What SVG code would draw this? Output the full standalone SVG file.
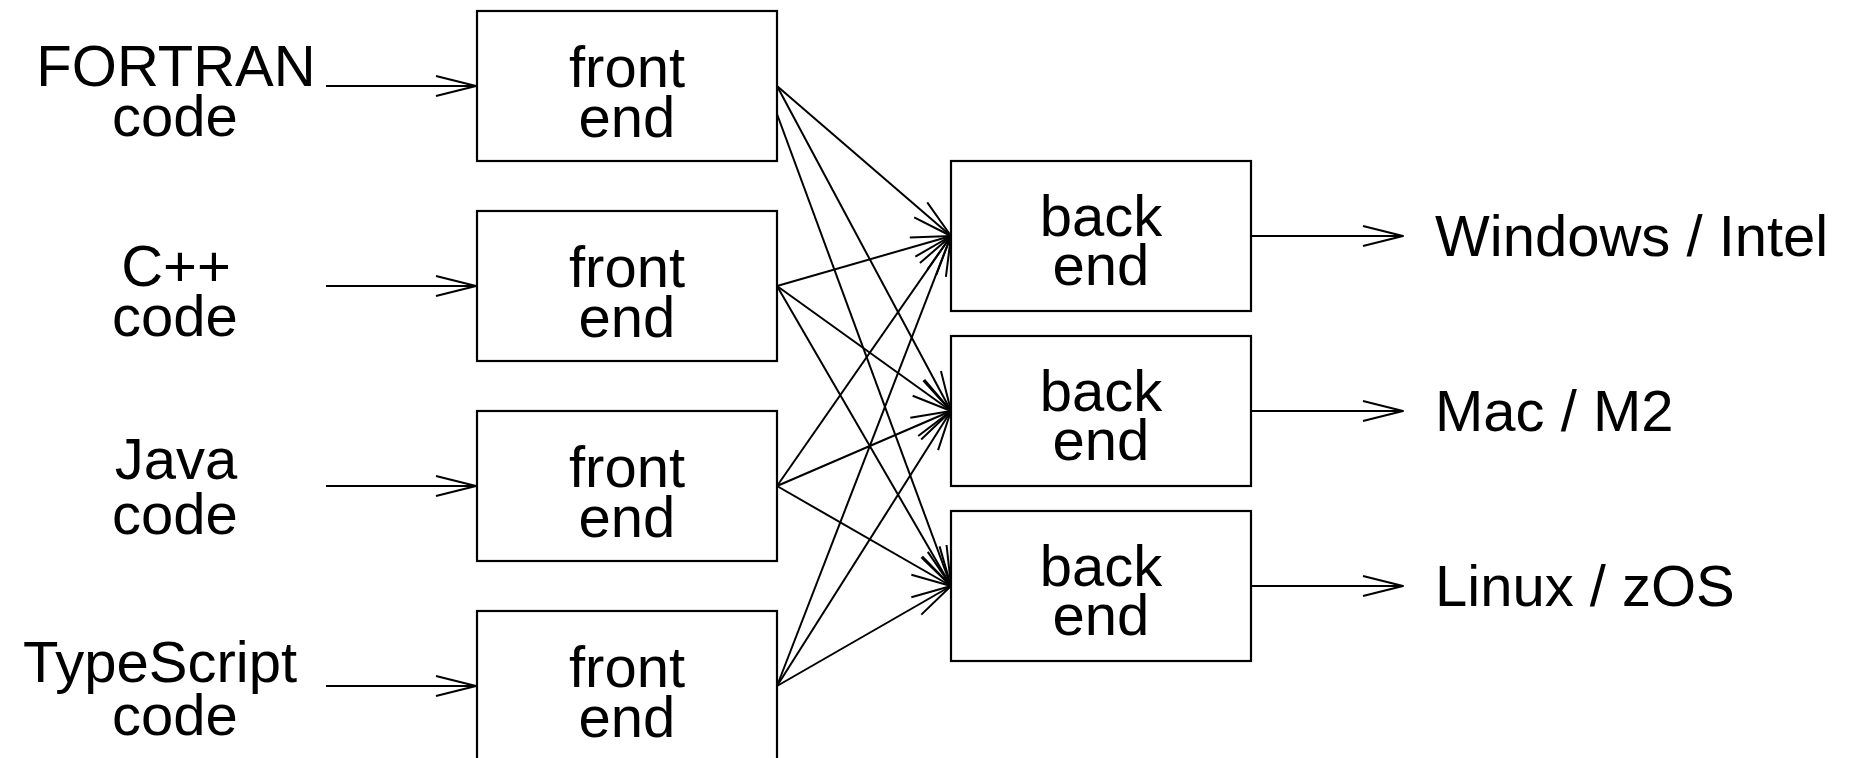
<svg xmlns="http://www.w3.org/2000/svg" width="1856" height="758" viewBox="0 0 1856 758">
  <style>
    .box { fill: #fff; stroke: #000; stroke-width: 2.2; }
    .lbl { font-family: "Liberation Sans", Arial, Helvetica, sans-serif; font-size: 58px; fill: #000; }
    .mid { text-anchor: middle; }
    .edge { fill: none; stroke: #000; stroke-width: 2; marker-end: url(#open); }
  </style>
  <defs>
    <marker id="open" markerUnits="userSpaceOnUse" markerWidth="60" markerHeight="40" viewBox="-50 -20 60 40" refX="0" refY="0" orient="auto" overflow="visible">
      <path d="M-40,-10 L0,0 L-40,10" fill="none" stroke="#000" stroke-width="2" stroke-linejoin="round"/>
    </marker>
  </defs>

  <rect width="1856" height="758" fill="#fff"/>

  <!-- source language labels -->
  <g id="src-fortran">
    <text class="lbl mid" x="176" y="86">FORTRAN</text>
    <text class="lbl mid" x="175" y="136">code</text>
  </g>
  <g id="src-cpp">
    <text class="lbl mid" x="176" y="286">C++</text>
    <text class="lbl mid" x="175" y="336">code</text>
  </g>
  <g id="src-java">
    <text class="lbl mid" x="176" y="479">Java</text>
    <text class="lbl mid" x="175" y="534">code</text>
  </g>
  <g id="src-typescript">
    <text class="lbl mid" x="160" y="682">TypeScript</text>
    <text class="lbl mid" x="175" y="735">code</text>
  </g>

  <!-- front ends -->
  <g id="front-1">
    <rect class="box" x="477" y="11" width="300" height="150"/>
    <text class="lbl mid" x="627" y="87">front</text>
    <text class="lbl mid" x="627" y="137">end</text>
  </g>
  <g id="front-2">
    <rect class="box" x="477" y="211" width="300" height="150"/>
    <text class="lbl mid" x="627" y="287">front</text>
    <text class="lbl mid" x="627" y="337">end</text>
  </g>
  <g id="front-3">
    <rect class="box" x="477" y="411" width="300" height="150"/>
    <text class="lbl mid" x="627" y="487">front</text>
    <text class="lbl mid" x="627" y="537">end</text>
  </g>
  <g id="front-4">
    <rect class="box" x="477" y="611" width="300" height="150"/>
    <text class="lbl mid" x="627" y="687">front</text>
    <text class="lbl mid" x="627" y="737">end</text>
  </g>

  <!-- back ends -->
  <g id="back-1">
    <rect class="box" x="951" y="161" width="300" height="150"/>
    <text class="lbl mid" x="1101" y="236">back</text>
    <text class="lbl mid" x="1101" y="285">end</text>
  </g>
  <g id="back-2">
    <rect class="box" x="951" y="336" width="300" height="150"/>
    <text class="lbl mid" x="1101" y="411">back</text>
    <text class="lbl mid" x="1101" y="460">end</text>
  </g>
  <g id="back-3">
    <rect class="box" x="951" y="511" width="300" height="150"/>
    <text class="lbl mid" x="1101" y="586">back</text>
    <text class="lbl mid" x="1101" y="635">end</text>
  </g>

  <!-- target platform labels -->
  <g id="tgt-windows"><text class="lbl" x="1435" y="256">Windows / Intel</text></g>
  <g id="tgt-mac"><text class="lbl" x="1435" y="431">Mac / M2</text></g>
  <g id="tgt-linux"><text class="lbl" x="1435" y="606">Linux / zOS</text></g>

  <!-- connectors -->
  <g id="connectors">
    <!-- source code into front ends -->
    <line class="edge" x1="326" y1="86" x2="476" y2="86"/>
    <line class="edge" x1="326" y1="286" x2="476" y2="286"/>
    <line class="edge" x1="326" y1="486" x2="476" y2="486"/>
    <line class="edge" x1="326" y1="686" x2="476" y2="686"/>

    <!-- every front end feeds every back end -->
    <line class="edge" x1="777" y1="86" x2="951" y2="236"/>
    <line class="edge" x1="777" y1="86" x2="951" y2="411"/>
    <line class="edge" x1="777" y1="114" x2="951" y2="586"/>

    <line class="edge" x1="777" y1="286" x2="951" y2="236"/>
    <line class="edge" x1="777" y1="286" x2="951" y2="411"/>
    <line class="edge" x1="777" y1="286" x2="951" y2="586"/>

    <line class="edge" x1="777" y1="486" x2="951" y2="236"/>
    <line class="edge" x1="777" y1="486" x2="951" y2="411"/>
    <line class="edge" x1="777" y1="486" x2="951" y2="586"/>

    <line class="edge" x1="777" y1="686" x2="951" y2="236"/>
    <line class="edge" x1="777" y1="686" x2="951" y2="411"/>
    <line class="edge" x1="777" y1="686" x2="951" y2="586"/>

    <!-- back ends out to platforms -->
    <line class="edge" x1="1251" y1="236" x2="1403" y2="236"/>
    <line class="edge" x1="1251" y1="411" x2="1403" y2="411"/>
    <line class="edge" x1="1251" y1="586" x2="1403" y2="586"/>
  </g>
</svg>
